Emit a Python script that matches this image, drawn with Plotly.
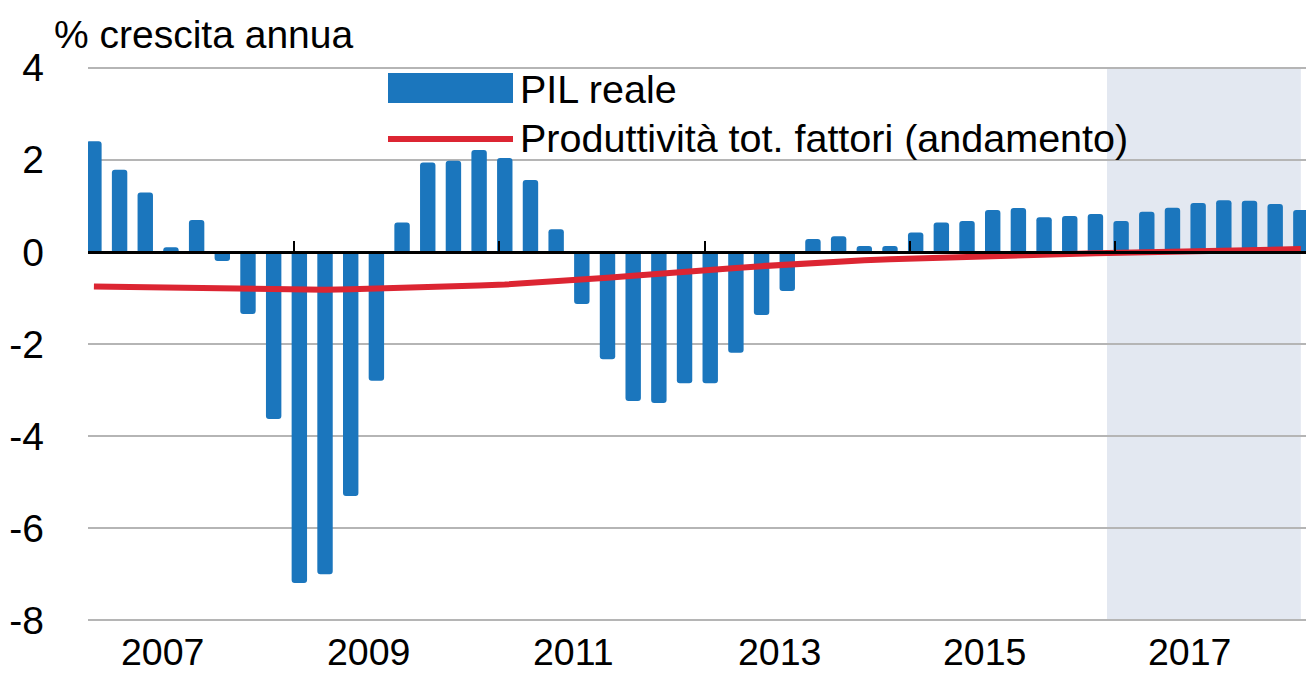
import plotly.graph_objects as go

# ---- data -------------------------------------------------------------
years = list(range(2007, 2019))
quarters = [f"{y}-T{q}" for y in years for q in range(1, 5)]

pil_reale = [
    2.40, 1.78, 1.29, 0.10,   # 2007
    0.69, -0.20, -1.35, -3.63,  # 2008
    -7.19, -7.00, -5.30, -2.80,  # 2009
    0.64, 1.94, 1.98, 2.21,   # 2010
    2.04, 1.56, 0.49, -1.13,  # 2011
    -2.33, -3.24, -3.28, -2.85,  # 2012
    -2.85, -2.19, -1.37, -0.85,  # 2013
    0.28, 0.34, 0.13, 0.13,   # 2014
    0.42, 0.64, 0.67, 0.91,   # 2015
    0.95, 0.75, 0.78, 0.82,   # 2016
    0.67, 0.87, 0.96, 1.06,   # 2017
    1.12, 1.11, 1.04, 0.91,   # 2018
]

ptf_andamento = [
    -0.75, -0.76, -0.77, -0.78,
    -0.79, -0.80, -0.81, -0.82,
    -0.82, -0.82, -0.81, -0.80,
    -0.79, -0.77, -0.75, -0.73,
    -0.71, -0.68, -0.64, -0.60,
    -0.56, -0.52, -0.47, -0.43,
    -0.39, -0.35, -0.31, -0.27,
    -0.24, -0.21, -0.18, -0.16,
    -0.14, -0.12, -0.11, -0.09,
    -0.07, -0.06, -0.04, -0.03,
    -0.02, -0.01, 0.00, 0.01,
    0.03, 0.04, 0.05, 0.06,
]

tick_years = [2007, 2009, 2011, 2013, 2015, 2017]
tick_labels = [str(y) for y in tick_years]
y_ticks = [-8, -6, -4, -2, 0, 2, 4]
y_tick_labels = ["-8", "-6", "-4", "-2", "0", "2", "4"]
projection_start = "2017-T1"

series_names = ["PIL reale", "Produttività tot. fattori (andamento)"]
y_title = "% crescita annua"

# ---- styling ----------------------------------------------------------
BLUE = "#1b76bd"
RED = "#dc2532"
GRID = "#b5b5b5"
SHADE = "#e3e8f1"
FONT = "Liberation Sans, Arial, sans-serif"
FS = 39

x_idx = list(range(len(quarters)))
tick_pos = [quarters.index(f"{y}-T1") - 0.22 for y in tick_years]
label_pos = [quarters.index(f"{y}-T3") + 0.68 for y in tick_years]
x_range = [-0.23, 47.2]
y_range = [-8.1, 4.1]

# plot area in pixels: top 63, bottom 625 (height 562)
T, B, H = 63, 50, 562


def py(pixel_y):
    """paper fraction for a figure-pixel row (layout helper for text/legend)."""
    return (T + H - pixel_y) / H


def px(pixel_x):
    return (pixel_x - 88) / 1218


fig = go.Figure()
fig.add_trace(go.Bar(
    x=x_idx, y=pil_reale, name=series_names[0],
    marker=dict(color=BLUE, line=dict(width=0), cornerradius=3),
    width=0.6, showlegend=False,
))
fig.add_trace(go.Scatter(
    x=x_idx, y=ptf_andamento, name=series_names[1], mode="lines",
    line=dict(color=RED, width=6), showlegend=False,
))

# projection shading
fig.add_shape(type="rect", xref="x", yref="y",
              x0=quarters.index(projection_start) - 0.55, x1=len(quarters) - 1,
              y0=min(y_ticks), y1=max(y_ticks),
              fillcolor=SHADE, line_width=0, layer="below")

# custom legend
fig.add_shape(type="rect", xref="paper", yref="paper",
              x0=px(388), x1=px(513), y0=py(103), y1=py(73),
              fillcolor=BLUE, line_width=0)
fig.add_shape(type="line", xref="paper", yref="paper",
              x0=px(388), x1=px(513), y0=py(139), y1=py(139),
              line=dict(color=RED, width=6))
fig.add_annotation(text=series_names[0], xref="paper", yref="paper",
                   x=px(518), y=py(89), xanchor="left", yanchor="middle",
                   showarrow=False, font=dict(size=39.5, color="black", family=FONT))
fig.add_annotation(text=series_names[1], xref="paper", yref="paper",
                   x=px(518), y=py(138), xanchor="left", yanchor="middle",
                   showarrow=False, font=dict(size=39.5, color="black", family=FONT))
# y title
fig.add_annotation(text=y_title, xref="paper", yref="paper",
                   x=px(52), y=py(34), xanchor="left", yanchor="middle",
                   showarrow=False, font=dict(size=39, color="black", family=FONT))

# year labels below the plot
for pos, lab in zip(label_pos, tick_labels):
    fig.add_annotation(text=lab, xref="x", yref="paper", x=pos, y=py(652),
                       xanchor="center", yanchor="middle", showarrow=False,
                       font=dict(size=37.5, color="black", family=FONT))

fig.update_layout(
    width=1309, height=675,
    margin=dict(l=88, r=3, t=T, b=B),
    paper_bgcolor="white", plot_bgcolor="white",
    font=dict(family=FONT, size=FS, color="black"),
    xaxis=dict(
        range=x_range, anchor="free",
        position=(0 - y_range[0]) / (y_range[1] - y_range[0]),
        showgrid=False, zeroline=False,
        showline=True, linecolor="black", linewidth=3,
        tickmode="array", tickvals=tick_pos, ticktext=[""] * len(tick_pos),
        ticks="inside", ticklen=10, tickwidth=2, tickcolor="black",
        showticklabels=False, automargin=False,
    ),
    yaxis=dict(
        range=y_range, tickmode="array", tickvals=y_ticks, ticktext=y_tick_labels,
        showgrid=True, gridcolor=GRID, gridwidth=2,
        zeroline=False, showline=False,
        ticks="", ticklabelstandoff=43, automargin=False,
        tickfont=dict(size=FS, family=FONT, color="black"),
    ),
)

fig.write_html(
    "out.html",
    config={"displayModeBar": False},
    post_script=("document.body.style.margin='0';"
                 "document.body.style.padding='0';"
                 "document.body.style.overflow='hidden';"),
)
